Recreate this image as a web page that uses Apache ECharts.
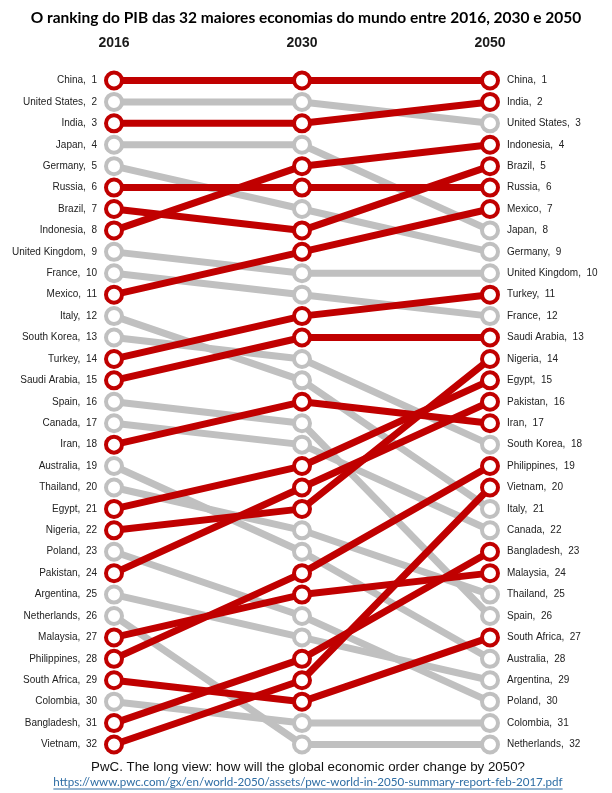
<!DOCTYPE html>
<html>
<head>
<meta charset="utf-8">
<script src="https://cdn.jsdelivr.net/npm/echarts@6/dist/echarts.min.js"></script>
<style>
html,body{margin:0;padding:0;background:#fff;}
#chart{width:612px;height:793px;}
</style>
</head>
<body>
<div id="chart"></div>
<script>
const years = ['2016', '2030', '2050'];
const countries = ['China','United States','India','Japan','Germany','Russia','Brazil','Indonesia','United Kingdom','France','Mexico','Italy','South Korea','Turkey','Saudi Arabia','Spain','Canada','Iran','Australia','Thailand','Egypt','Nigeria','Poland','Pakistan','Argentina','Netherlands','Malaysia','Philippines','South Africa','Colombia','Bangladesh','Vietnam'];
const rank2016 = [1,2,3,4,5,6,7,8,9,10,11,12,13,14,15,16,17,18,19,20,21,22,23,24,25,26,27,28,29,30,31,32];
const rank2030 = [1,2,3,4,7,6,8,5,10,11,9,15,14,12,13,17,18,16,23,22,19,21,26,20,27,32,25,24,30,31,28,29];
const rank2050 = [1,3,2,8,9,6,5,4,10,12,7,21,18,11,13,26,22,17,28,25,15,14,30,16,29,32,24,19,27,31,23,20];
const emerging = [1,0,1,0,0,1,1,1,0,0,1,0,0,1,1,0,0,1,0,0,1,1,0,1,0,0,1,1,1,0,1,1];
const titleText = 'O ranking do PIB das 32 maiores economias do mundo entre 2016, 2030 e 2050';
const sourceText = 'PwC. The long view: how will the global economic order change by 2050?';
const sourceUrl = 'https://www.pwc.com/gx/en/world-2050/assets/pwc-world-in-2050-summary-report-feb-2017.pdf';

const RED = '#C00000';
const GRAY = '#C0C0C0';

function nameAt(rankArr, r) {
  const i = rankArr.indexOf(r);
  return i >= 0 ? countries[i] + ',  ' + r : '';
}

const series = [];
// gray lines first, then red lines on top
[0, 1].forEach(function (grp) {
  countries.forEach(function (c, i) {
    if (emerging[i] !== grp) return;
    series.push({
      type: 'line',
      name: c,
      data: [[years[0], rank2016[i]], [years[1], rank2030[i]], [years[2], rank2050[i]]],
      symbol: 'none',
      silent: true,
      z: 2 + grp,
      lineStyle: { color: grp ? RED : GRAY, width: 7, cap: 'butt' }
    });
  });
});
[0, 1].forEach(function (grp) {
  const pts = [];
  countries.forEach(function (c, i) {
    if (emerging[i] !== grp) return;
    pts.push([years[0], rank2016[i]], [years[1], rank2030[i]], [years[2], rank2050[i]]);
  });
  series.push({
    type: 'scatter',
    data: pts,
    symbol: 'circle',
    symbolSize: 16,
    silent: true,
    z: 5,
    itemStyle: { color: '#ffffff', borderColor: grp ? RED : GRAY, borderWidth: 4, opacity: 1 }
  });
});

// measure url width for underline
const cv = document.createElement('canvas').getContext('2d');
const urlFont = '11.6px Lato';
cv.font = urlFont;

const chart = echarts.init(document.getElementById('chart'), null, { renderer: 'canvas' });
const urlW = cv.measureText(sourceUrl).width;
const cx = 308;

chart.setOption({
  animation: false,
  backgroundColor: '#ffffff',
  title: {
    text: titleText,
    left: 'center',
    top: 5,
    textStyle: { fontFamily: 'Lato', fontWeight: 'bold', fontSize: 15.5, color: '#000' }
  },
  grid: { left: 114, right: 122, top: 80.5, bottom: 48.5 },
  xAxis: {
    type: 'category',
    data: years,
    position: 'top',
    boundaryGap: false,
    axisLine: { show: false },
    axisTick: { show: false },
    splitLine: { show: false },
    axisLabel: { margin: 30, fontFamily: 'Liberation Sans', fontWeight: 'bold', fontSize: 14, color: '#1a1a1a' }
  },
  yAxis: [
    {
      type: 'value', min: 1, max: 32, interval: 1, inverse: true, position: 'left',
      axisLine: { show: false }, axisTick: { show: false }, splitLine: { show: false },
      axisLabel: { margin: 17, fontFamily: 'Liberation Sans', fontSize: 10, color: '#222',
        formatter: function (v) { return nameAt(rank2016, v); } }
    },
    {
      type: 'value', min: 1, max: 32, interval: 1, inverse: true, position: 'right',
      axisLine: { show: false }, axisTick: { show: false }, splitLine: { show: false },
      axisLabel: { margin: 17, fontFamily: 'Liberation Sans', fontSize: 10, color: '#222',
        formatter: function (v) { return nameAt(rank2050, v); } }
    }
  ],
  series: series,
  graphic: [
    { type: 'text', x: cx, y: 767.5, style: { text: sourceText, font: '13.3px "Liberation Sans"', fill: '#111', align: 'center', verticalAlign: 'middle' } },
    { type: 'text', x: cx, y: 782.5, style: { text: sourceUrl, font: urlFont, fill: '#2E6DA4', align: 'center', verticalAlign: 'middle' } },
    { type: 'line', shape: { x1: cx - urlW / 2, y1: 789, x2: cx + urlW / 2, y2: 789 }, style: { stroke: '#2E6DA4', lineWidth: 1 } }
  ]
});
</script>
</body>
</html>
